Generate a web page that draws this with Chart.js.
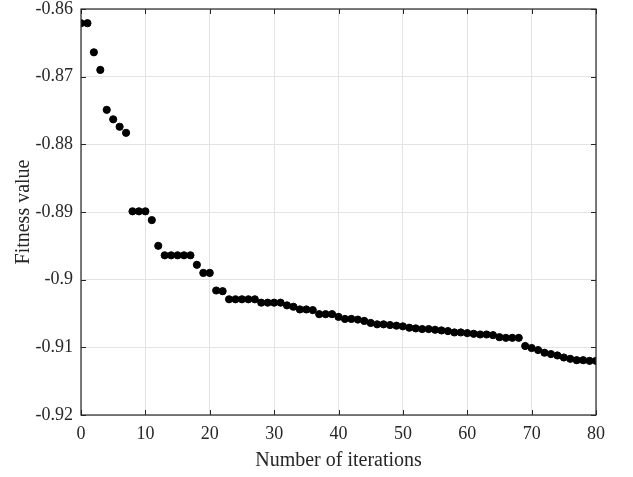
<!DOCTYPE html>
<html>
<head>
<meta charset="utf-8">
<script src="https://cdn.jsdelivr.net/npm/chart.js@4"></script>
<style>
  html, body { margin: 0; padding: 0; background: #fff; }
  #wrap { width: 633px; height: 477px; }
</style>
</head>
<body>
<div id="wrap"><canvas id="fitChart" width="633" height="477"></canvas></div>
<script>
// iterations 0..80
const iterations = [];
for (let i = 0; i <= 80; i++) iterations.push(i);

const fitness = [
  -0.8621, -0.8621, -0.8664, -0.8690, -0.8749, -0.8763, -0.8774, -0.8783,
  -0.8899, -0.8899, -0.8899, -0.8912, -0.8950, -0.8964, -0.8964, -0.8964,
  -0.8964, -0.8964, -0.8978, -0.8990, -0.8990, -0.9016, -0.9017, -0.9029,
  -0.9029, -0.9029, -0.9029, -0.9029, -0.9034, -0.9034, -0.9034, -0.9034,
  -0.9038, -0.9040, -0.9044, -0.9044, -0.9045, -0.9051, -0.9051, -0.9051,
  -0.9055, -0.9058, -0.9058, -0.9059, -0.9061, -0.9064, -0.9066, -0.9066,
  -0.9067, -0.9068, -0.9069, -0.9071, -0.9072, -0.9073, -0.9073, -0.9074,
  -0.9075, -0.9076, -0.9078, -0.9078, -0.9079, -0.9080, -0.9081, -0.9081,
  -0.9082, -0.9085, -0.9086, -0.9086, -0.9086, -0.9098, -0.9101, -0.9104,
  -0.9108, -0.9110, -0.9112, -0.9115, -0.9117, -0.9119, -0.9119, -0.9120,
  -0.9120
];

const xTicks = [0, 10, 20, 30, 40, 50, 60, 70, 80];
const yTicks = [-0.86, -0.87, -0.88, -0.89, -0.9, -0.91, -0.92];

const serif = "'Liberation Serif', 'Times New Roman', serif";

// box around the plot + short ticks pointing inward (matlab style)
const boxPlugin = {
  id: 'box',
  afterDraw(chart) {
    const ctx = chart.ctx;
    const a = chart.chartArea;
    const xs = chart.scales.x, ys = chart.scales.y;
    ctx.save();
    ctx.strokeStyle = '#262626';
    ctx.lineWidth = 1;
    ctx.beginPath();
    xTicks.forEach(v => {
      const px = Math.round(xs.getPixelForValue(v)) + 0.5;
      ctx.moveTo(px, a.bottom); ctx.lineTo(px, a.bottom - 5);
      ctx.moveTo(px, a.top); ctx.lineTo(px, a.top + 5);
    });
    yTicks.forEach(v => {
      const py = Math.round(ys.getPixelForValue(v)) + 0.5;
      ctx.moveTo(a.left, py); ctx.lineTo(a.left + 5, py);
      ctx.moveTo(a.right, py); ctx.lineTo(a.right - 5, py);
    });
    ctx.stroke();
    ctx.lineWidth = 1.2;
    ctx.strokeRect(a.left, a.top, a.right - a.left, a.bottom - a.top);
    ctx.restore();
  }
};

const data = iterations.map((x, i) => ({ x: x, y: fitness[i] }));

new Chart(document.getElementById('fitChart').getContext('2d'), {
  type: 'scatter',
  data: {
    datasets: [{
      data: data,
      backgroundColor: '#000',
      borderColor: '#000',
      pointRadius: 3.6,
      pointHoverRadius: 3.6
    }]
  },
  options: {
    responsive: false,
    animation: false,
    layout: { padding: { left: 0, right: 37, top: 9, bottom: 0 } },
    plugins: { legend: { display: false }, tooltip: { enabled: false } },
    scales: {
      x: {
        type: 'linear',
        min: 0, max: 80,
        afterBuildTicks: s => { s.ticks = xTicks.map(v => ({ value: v })); },
        afterFit: s => { s.height = 62; s.paddingLeft = 0; s.paddingRight = 0; },
        grid: { color: '#e3e3e3', tickLength: 0, drawTicks: false },
        border: { display: false },
        ticks: {
          padding: 8,
          color: '#262626',
          font: { family: serif, size: 18 },
          maxRotation: 0
        },
        title: {
          display: true,
          text: 'Number of iterations',
          color: '#262626',
          font: { family: serif, size: 20 },
          padding: { top: 0, bottom: 4 }
        }
      },
      y: {
        min: -0.92, max: -0.86,
        afterBuildTicks: s => { s.ticks = yTicks.map(v => ({ value: v })); },
        afterFit: s => { s.width = 81; s.paddingTop = 0; s.paddingBottom = 0; },
        grid: { color: '#e3e3e3', tickLength: 0, drawTicks: false },
        border: { display: false },
        ticks: {
          padding: 8,
          color: '#262626',
          font: { family: serif, size: 18 },
          callback: v => String(Math.round(v * 100) / 100)
        },
        title: {
          display: true,
          text: 'Fitness value',
          color: '#262626',
          font: { family: serif, size: 20 },
          padding: { top: 12, bottom: 0 }
        }
      }
    }
  },
  plugins: [boxPlugin]
});
</script>
</body>
</html>
